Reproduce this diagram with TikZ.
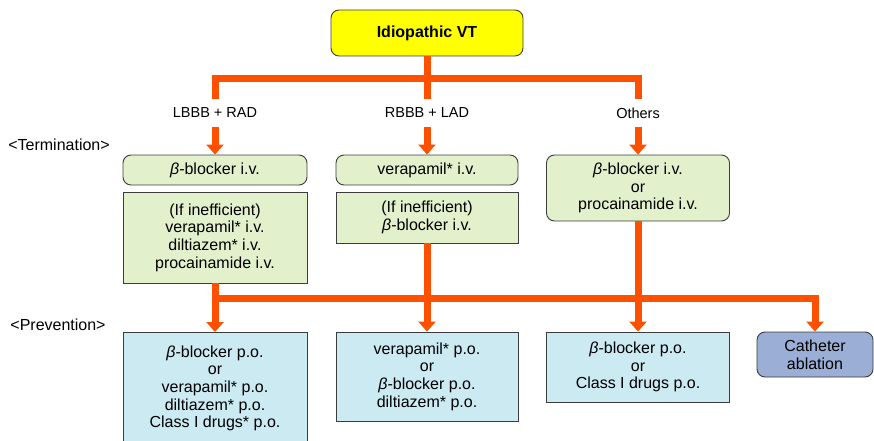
\documentclass[tikz,border=0pt]{standalone}
\usepackage{fontspec}
\setmainfont{Liberation Sans}
\usetikzlibrary{arrows.meta}
\definecolor{vtorange}{RGB}{255,80,0}
\definecolor{vtyellow}{RGB}{255,255,0}
\definecolor{vtgreen}{RGB}{226,241,204}
\definecolor{vtblue}{RGB}{204,234,242}
\definecolor{vtpurple}{RGB}{155,174,214}
\definecolor{vtedge}{RGB}{60,60,60}
\begin{document}
\begin{tikzpicture}[x=1pt, y=-1pt,
        every node/.style={font=\fontsize{16}{17.7}\selectfont, align=center, inner sep=0pt},
        box/.style={draw=vtedge, line width=0.9pt},
        roundbox/.style={box, rounded corners=8pt},
        term/.style={fill=vtgreen},
        prev/.style={fill=vtblue},
        branch/.style={minimum height=28pt, font=\fontsize{14.5}{17}\selectfont},
        flow/.style={vtorange, line width=7pt, line join=miter},
        flowarrow/.style={flow, -{Triangle[width=17pt, length=10pt]}}
    ]
        \useasboundingbox (0,0) rectangle (874,441);

        % Kopf und Verzweigung
        \node [roundbox, fill=vtyellow, minimum width=192pt, minimum height=46pt] (title) at (427,33) {\textbf{Idiopathic VT}};
        \node [branch] (lbbb) at (215,113) {LBBB + RAD};
        \node [branch] (rbbb) at (427,113) {RBBB + LAD};
        \node [branch] (others) at (638,113) {Others};
        \coordinate (busT) at (427,79);
        \coordinate (busP) at (215,298);

        % Abschnitte
        \node (termlab) at (59,145) {<Termination>};
        \node (prevlab) at (58,325) {<Prevention>};

        % Terminierung
        \node [roundbox, term, minimum width=184pt, minimum height=30pt] (tbeta) at (215,170) {\textit{β}-blocker i.v.};
        \node [box, term, minimum width=184pt, minimum height=91pt] (tbetaalt) at (215,237.5) {(If inefficient)\\verapamil* i.v.\\diltiazem* i.v.\\procainamide i.v.};
        \node [roundbox, term, minimum width=182pt, minimum height=30pt] (tvera) at (427,170) {verapamil* i.v.};
        \node [box, term, minimum width=182pt, minimum height=51pt] (tveraalt) at (427,217.5) {(If inefficient)\\\textit{β}-blocker i.v.};
        \node [roundbox, term, minimum width=183pt, minimum height=66pt] (tothers) at (638,188) {\textit{β}-blocker i.v.\\or\\procainamide i.v.};

        % Prävention
        \node [box, prev, minimum width=184pt, minimum height=112pt, anchor=north] (pleft) at (215,332) {\textit{β}-blocker p.o.\\or\\verapamil* p.o.\\diltiazem* p.o.\\Class I drugs* p.o.};
        \node [box, prev, minimum width=182pt, minimum height=89pt] (pcenter) at (427,376.5) {verapamil* p.o.\\or\\\textit{β}-blocker p.o.\\diltiazem* p.o.};
        \node [box, prev, minimum width=183pt, minimum height=70pt] (pright) at (638,367) {\textit{β}-blocker p.o.\\or\\Class I drugs p.o.};
        \node [roundbox, fill=vtpurple, minimum width=116pt, minimum height=45pt] (ablation) at (815,354.5) {Catheter\\ablation};

        % Verbindungen oben
        \draw[flow] (title.south) -- (title.south |- busT);
        \draw[flow] (lbbb.north) -- (lbbb.north |- busT) -- (others.north |- busT) -- (others.north);
        \draw[flow] (rbbb.north) -- (rbbb.north |- busT);
        \draw[flowarrow] (lbbb.south) -- (tbeta.north);
        \draw[flowarrow] (rbbb.south) -- (tvera.north);
        \draw[flowarrow] (others.south) -- (tothers.north);

        % Verbindungen unten
        \draw[flowarrow] (tbetaalt.south) -- (pleft.north);
        \draw[flowarrow] (tveraalt.south) -- (pcenter.north);
        \draw[flowarrow] (tothers.south) -- (pright.north);
        \draw[flowarrow] (busP) -- (ablation.north |- busP) -- (ablation.north);
    \end{tikzpicture}
\end{document}
